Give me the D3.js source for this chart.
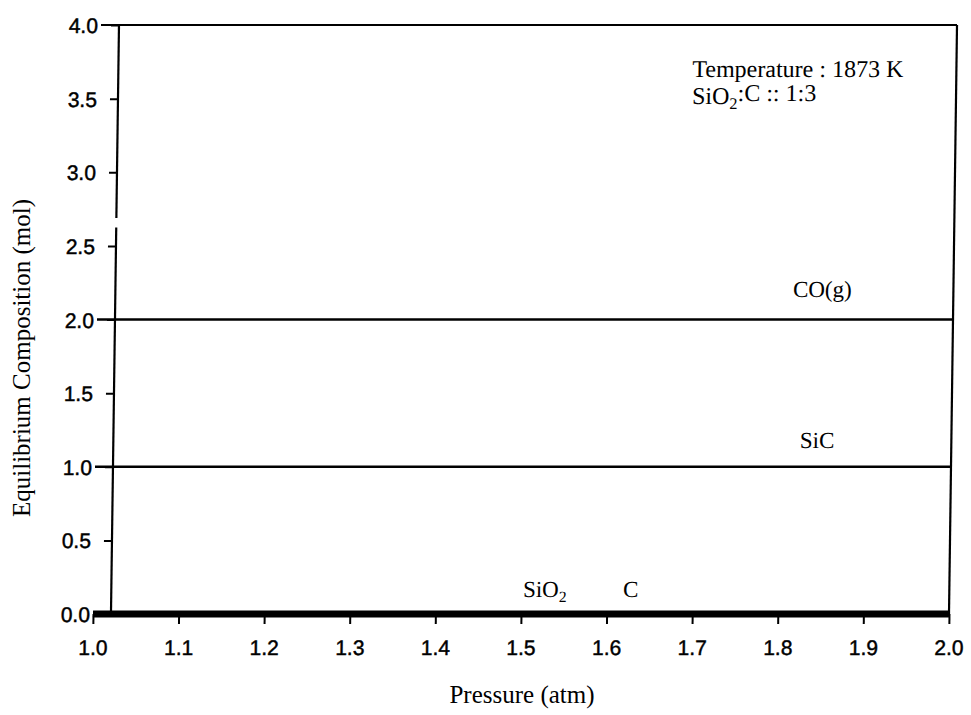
<!DOCTYPE html>
<html>
<head>
<meta charset="utf-8">
<script src="https://cdn.jsdelivr.net/npm/d3@7/dist/d3.min.js"></script>
<style>
  html, body { margin: 0; padding: 0; background: #fff; }
  svg { display: block; }
  .tick text { font-family: "Liberation Sans", Arial, sans-serif; font-size: 21px; fill: #000; stroke: #000; stroke-width: 0.45px; }
  .serif { font-family: "Liberation Serif", "Times New Roman", serif; fill: #000; }
</style>
</head>
<body>
<svg id="chart" width="971" height="715"></svg>
<script>
// Equilibrium composition vs pressure at 1873 K, SiO2:C = 1:3
const pressure = [1.0, 1.1, 1.2, 1.3, 1.4, 1.5, 1.6, 1.7, 1.8, 1.9, 2.0];
const coGas   = [2, 2, 2, 2, 2, 2, 2, 2, 2, 2, 2];
const siC     = [1, 1, 1, 1, 1, 1, 1, 1, 1, 1, 1];
const siO2    = [0, 0, 0, 0, 0, 0, 0, 0, 0, 0, 0];
const carbon  = [0, 0, 0, 0, 0, 0, 0, 0, 0, 0, 0];
const xTicks  = [1.0, 1.1, 1.2, 1.3, 1.4, 1.5, 1.6, 1.7, 1.8, 1.9, 2.0];
const yTicks  = [0, 0.5, 1.0, 1.5, 2.0, 2.5, 3.0, 3.5, 4.0];
const yAxisAt = 1.021;          // pressure where the vertical axis is drawn
const yBreak  = [2.625, 2.69];  // gap in the vertical axis

const svg = d3.select("#chart");
const x = d3.scaleLinear().domain([1, 2]).range([93, 949]);
const y = d3.scaleLinear().domain([0, 4]).range([614, 25]);

// the whole figure leans slightly to the right toward the top
const k = 0.0136;
const g = svg.append("g")
  .attr("transform", `translate(${(614 * k).toFixed(3)},0) skewX(${(-Math.atan(k) * 180 / Math.PI).toFixed(4)})`);

// x axis
const xAxis = g.append("g")
  .attr("transform", `translate(0,${y(0)})`)
  .call(d3.axisBottom(x).tickValues(xTicks).tickFormat(d3.format(".1f")).tickSize(10).tickPadding(16));
xAxis.select(".domain").remove();
xAxis.selectAll(".tick line").attr("stroke", "#000").attr("stroke-width", 2);

// y axis (ticks + labels), with its own broken spine
const yAxis = g.append("g")
  .attr("transform", `translate(${x(yAxisAt)},0)`)
  .call(d3.axisLeft(y).tickValues(yTicks).tickFormat(d3.format(".1f")).tickSize(8).tickPadding(13));
yAxis.select(".domain").remove();
yAxis.selectAll(".tick line").attr("stroke", "#000").attr("stroke-width", 2);
yAxis.selectAll(".tick text").attr("dy", "0.36em");

const spine = [[0, yBreak[0]], [yBreak[1], 4]];
g.selectAll(".spine").data(spine).join("line")
  .attr("x1", x(yAxisAt)).attr("x2", x(yAxisAt))
  .attr("y1", d => y(d[0])).attr("y2", d => y(d[1]))
  .attr("stroke", "#000").attr("stroke-width", 2.2);

// frame: top and right
g.append("line").attr("x1", x(1)).attr("x2", x(2)).attr("y1", y(4)).attr("y2", y(4))
  .attr("stroke", "#000").attr("stroke-width", 2.2);
g.append("line").attr("x1", x(2)).attr("x2", x(2)).attr("y1", y(4)).attr("y2", y(0))
  .attr("stroke", "#000").attr("stroke-width", 2.2);

// series lines
const line = d3.line().x(d => x(d[0])).y(d => y(d[1]));
const series = [
  { name: "CO(g)", values: coGas, width: 2.4 },
  { name: "SiC", values: siC, width: 2.4 },
  { name: "SiO2", values: siO2, width: 7 },
  { name: "C", values: carbon, width: 5 }
];
g.selectAll(".series").data(series).join("path")
  .attr("fill", "none").attr("stroke", "#000")
  .attr("stroke-width", d => d.width)
  .attr("d", d => line(pressure.map((p, i) => [p, d.values[i]])));

// series labels
function label(px, vy, txt, sub, rest, size) {
  const t = g.append("text").attr("class", "serif")
    .attr("x", x(px)).attr("y", y(vy)).attr("font-size", size);
  t.append("tspan").text(txt);
  if (sub) {
    t.append("tspan").attr("font-size", size * 0.68).attr("dy", "0.32em").text(sub);
    if (rest) t.append("tspan").attr("dy", "-0.32em").text(rest);
  }
  return t;
}
label(1.8126, 2.15, "CO(g)", null, null, 23);
label(1.823, 1.13, "SiC", null, null, 23);
label(1.502, 0.115, "SiO", "2", null, 23);
label(1.619, 0.115, "C", null, null, 23);

// conditions note
label(1.6916, 3.647, "Temperature : 1873 K", null, null, 24);
label(1.6916, 3.464, "SiO", "2", ":C :: 1:3", 24);

// axis titles
svg.append("text").attr("class", "serif")
  .attr("x", 522).attr("y", 703).attr("text-anchor", "middle").attr("font-size", 25)
  .text("Pressure (atm)");
svg.append("text").attr("class", "serif")
  .attr("transform", "translate(30,358) rotate(-90)")
  .attr("text-anchor", "middle").attr("font-size", 25)
  .text("Equilibrium Composition (mol)");
</script>
</body>
</html>
